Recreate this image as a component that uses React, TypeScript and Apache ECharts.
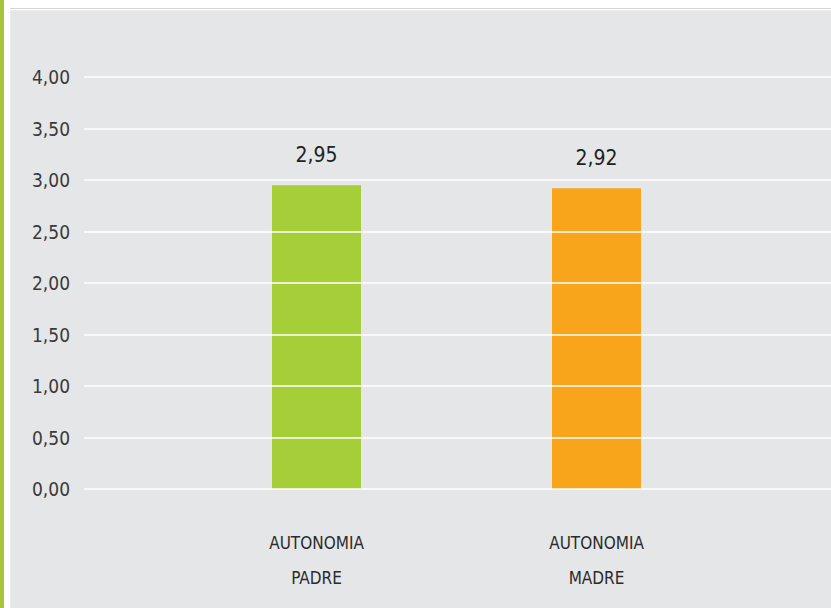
import React, { useEffect, useRef } from "react";
import * as echarts from "echarts";

const categories = ["AUTONOMIA\nPADRE", "AUTONOMIA\nMADRE"];
const values = [2.95, 2.92];
const barColors = ["#a6ce39", "#f8a51c"];
const yTicks = { min: 0, max: 4, interval: 0.5 };

const FONT = "'Liberation Sans Narrow', 'DejaVu Sans Condensed', 'Liberation Sans', sans-serif";
const fmt = (v: number) => v.toFixed(2).replace(".", ",");

export default function App() {
  const ref = useRef<HTMLDivElement>(null);
  useEffect(() => {
    if (!ref.current) return;
    const chart = echarts.init(ref.current, undefined, { renderer: "svg" });
    chart.setOption({
      animation: false,
      backgroundColor: "#ffffff",
      graphic: [
        { type: "rect", z: -10, shape: { x: 0, y: 0, width: 4, height: 608 }, style: { fill: "#a8c43c" } },
        { type: "rect", z: -10, shape: { x: 10, y: 8, width: 821, height: 1 }, style: { fill: "#d6d6d6" } },
        { type: "rect", z: -10, shape: { x: 10, y: 10, width: 821, height: 598 }, style: { fill: "#ededee" } },
        { type: "rect", z: -10, shape: { x: 11, y: 11, width: 820, height: 597 }, style: { fill: "#e5e6e7" } },
      ],
      grid: [
        { left: 84, right: 0, top: 77, bottom: 119 },
        { left: 176.5, right: 94.5, top: 77, bottom: 119 },
      ],
      xAxis: [
        { type: "value", gridIndex: 0, min: 0, max: 1, show: false },
        {
          type: "category",
          gridIndex: 1,
          data: categories,
          axisLine: { show: false },
          axisTick: { show: false },
          axisLabel: {
            margin: 36,
            fontFamily: FONT,
            fontSize: 17,
            lineHeight: 35,
            color: "#2b2b2b",
          },
        },
      ],
      yAxis: [
        {
          type: "value",
          gridIndex: 0,
          min: yTicks.min,
          max: yTicks.max,
          interval: yTicks.interval,
          z: 5,
          axisLine: { show: false },
          axisTick: { show: false },
          splitLine: { lineStyle: { color: "rgba(255,255,255,0.75)", width: 2 } },
          axisLabel: {
            margin: 14,
            fontFamily: FONT,
            fontSize: 19,
            color: "#3a3a3a",
            padding: [8, 0, 0, 0],
            formatter: (v: number) => fmt(v),
          },
        },
        {
          type: "value",
          gridIndex: 1,
          min: yTicks.min,
          max: yTicks.max,
          interval: yTicks.interval,
          show: false,
          splitLine: { show: false },
        },
      ],
      series: [
        {
          type: "bar",
          xAxisIndex: 1,
          yAxisIndex: 1,
          barWidth: 89,
          data: values.map((v, i) => ({ value: v, itemStyle: { color: barColors[i] } })),
          label: {
            show: true,
            position: "top",
            distance: 20,
            fontFamily: FONT,
            fontSize: 21,
            color: "#222222",
            formatter: (p: any) => fmt(p.value),
          },
        },
      ],
    });
    return () => chart.dispose();
  }, []);
  return (
    <div
      ref={ref}
      style={{ position: "absolute", left: 0, top: 0, width: 831, height: 608 }}
    />
  );
}
